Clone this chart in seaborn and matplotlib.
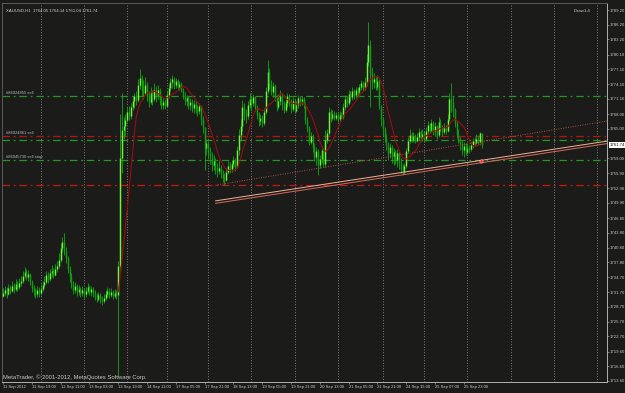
import numpy as np
import pandas as pd
import matplotlib
matplotlib.use("Agg")
import matplotlib.pyplot as plt
import seaborn as sns

# ---------------- data (XAUUSD, H1) ----------------
closes = [1731.5, 1732.2, 1731.4, 1732.6, 1732.0, 1733.0, 1732.4, 1733.4, 1732.8, 1733.6,
          1734.0, 1735.0, 1735.8, 1734.8, 1735.4, 1733.8, 1732.6, 1732.0, 1731.4, 1732.2,
          1731.6, 1732.4, 1733.2, 1733.8, 1735.2, 1734.4, 1735.6, 1736.0, 1735.2, 1736.4,
          1737.0, 1738.2, 1740.6, 1742.0, 1740.0, 1738.6, 1736.4, 1735.0, 1733.6, 1732.2,
          1733.0, 1731.8, 1732.4, 1731.6, 1732.2, 1731.4, 1732.0, 1732.8, 1731.8, 1732.4,
          1731.6, 1731.0, 1730.4, 1731.2, 1730.2, 1729.8, 1730.6, 1731.4, 1732.0, 1731.2,
          1731.8, 1731.0, 1731.6, 1731.2, 1737.0, 1759.0, 1764.8, 1765.6, 1766.8, 1768.4,
          1767.6, 1769.4, 1770.6, 1771.6, 1770.8, 1774.0, 1775.4, 1773.0, 1772.2, 1774.0,
          1771.6, 1770.4, 1772.2, 1771.0, 1772.8, 1771.8, 1773.0, 1770.6, 1769.8, 1770.4,
          1769.6, 1771.8, 1773.4, 1774.6, 1775.2, 1774.0, 1774.8, 1773.6, 1774.2, 1773.0,
          1771.8, 1770.6, 1771.2, 1769.8, 1770.4, 1769.2, 1770.0, 1769.0, 1768.6, 1769.6,
          1767.0, 1765.4, 1761.0, 1762.0, 1760.2, 1759.4, 1757.6, 1758.4, 1757.2, 1756.4,
          1757.0, 1755.8, 1755.0, 1754.6, 1756.2, 1757.4, 1756.8, 1757.8, 1758.6, 1757.2,
          1760.6, 1763.8, 1765.6, 1769.4, 1768.2, 1767.6, 1769.8, 1771.0, 1770.2, 1771.4,
          1769.2, 1767.8, 1766.6, 1767.2, 1766.2, 1768.4, 1772.6, 1776.6, 1774.2, 1772.4,
          1773.8, 1771.2, 1769.4, 1770.6, 1771.6, 1769.8, 1768.8, 1770.2, 1771.6, 1770.4,
          1769.0, 1770.6, 1768.6, 1769.8, 1771.2, 1770.6, 1771.0, 1769.8, 1766.8, 1765.2,
          1762.4, 1763.6, 1761.0, 1759.2, 1760.4, 1757.6, 1758.8, 1760.6, 1757.8, 1762.8,
          1764.2, 1768.4, 1767.2, 1768.0, 1767.2, 1767.8, 1767.0, 1767.8, 1767.4, 1769.4,
          1771.0, 1770.2, 1772.0, 1771.4, 1772.6, 1771.8, 1773.0, 1772.4, 1773.6, 1774.4,
          1773.4, 1774.6, 1778.6, 1782.0, 1776.4, 1774.6, 1775.2, 1773.6, 1774.8, 1769.6,
          1767.0, 1765.0, 1763.2, 1761.6, 1760.0, 1761.2, 1759.4, 1760.2, 1758.6, 1760.0,
          1758.0, 1756.8, 1756.2, 1757.4, 1760.4, 1762.6, 1763.8, 1762.8, 1763.6, 1762.6,
          1763.4, 1764.4, 1763.2, 1764.0, 1763.0, 1764.6, 1765.8, 1764.8, 1766.2, 1764.6,
          1765.6, 1763.8, 1766.4, 1765.4, 1764.4, 1765.4, 1764.6, 1767.0, 1771.0, 1770.4,
          1768.8, 1766.2, 1764.0, 1762.6, 1761.8, 1760.6, 1761.4, 1760.2, 1761.0, 1760.8,
          1761.6, 1762.6, 1762.0, 1763.0, 1762.4, 1764.05, 1761.74]
highs = [1732.6, 1733.0, 1732.8, 1733.4, 1733.2, 1734.0, 1733.6, 1734.4, 1734.0, 1734.6,
         1735.0, 1736.0, 1736.8, 1736.4, 1736.2, 1735.6, 1734.2, 1733.2, 1732.6, 1733.0,
         1732.8, 1733.4, 1734.0, 1735.0, 1736.0, 1735.8, 1736.4, 1737.2, 1736.6, 1737.4,
         1738.0, 1739.6, 1741.8, 1743.0, 1743.7, 1741.0, 1739.0, 1737.0, 1735.6, 1734.0,
         1733.8, 1733.4, 1733.2, 1732.8, 1733.0, 1732.6, 1732.8, 1733.6, 1733.2, 1733.0,
         1732.8, 1732.2, 1731.6, 1731.8, 1731.6, 1731.0, 1731.4, 1732.2, 1732.8, 1732.6,
         1732.6, 1732.2, 1732.4, 1732.2, 1738.0, 1768.0, 1772.3, 1767.4, 1768.0, 1769.4,
         1769.6, 1770.2, 1771.6, 1772.3, 1772.6, 1775.2, 1777.2, 1776.0, 1775.0, 1775.6,
         1774.6, 1772.6, 1773.6, 1773.0, 1774.3, 1773.8, 1774.0, 1773.4, 1771.6, 1771.2,
         1771.0, 1772.6, 1774.2, 1775.4, 1775.9, 1775.6, 1775.4, 1775.2, 1774.8, 1774.6,
         1773.4, 1772.4, 1771.8, 1771.6, 1771.2, 1771.0, 1770.8, 1770.6, 1769.8, 1770.2,
         1769.8, 1767.6, 1765.4, 1763.0, 1762.4, 1761.2, 1760.2, 1759.6, 1759.0, 1758.0,
         1758.6, 1757.6, 1756.6, 1756.0, 1757.0, 1758.4, 1758.2, 1758.6, 1759.4, 1759.0,
         1761.4, 1765.0, 1767.0, 1770.9, 1770.2, 1769.0, 1770.6, 1772.3, 1771.6, 1772.0,
         1771.6, 1769.8, 1768.4, 1768.0, 1767.8, 1769.2, 1773.6, 1779.0, 1777.4, 1775.0,
         1774.6, 1774.2, 1771.8, 1772.0, 1773.0, 1772.2, 1770.6, 1771.0, 1772.3, 1772.0,
         1771.0, 1771.4, 1771.0, 1770.6, 1771.8, 1771.6, 1771.6, 1771.4, 1770.2, 1767.4,
         1765.6, 1764.4, 1764.0, 1762.0, 1761.2, 1760.8, 1759.6, 1761.4, 1761.0, 1764.7,
         1765.0, 1769.4, 1769.0, 1768.8, 1768.6, 1768.4, 1768.2, 1768.6, 1768.4, 1770.2,
         1771.8, 1771.6, 1772.9, 1772.6, 1773.5, 1773.2, 1773.6, 1773.6, 1774.2, 1774.9,
         1774.8, 1775.6, 1780.2, 1786.8, 1783.1, 1777.6, 1776.4, 1775.6, 1775.9, 1775.2,
         1769.8, 1767.4, 1765.4, 1764.0, 1762.4, 1762.0, 1761.6, 1761.0, 1760.6, 1760.8,
         1760.4, 1759.0, 1757.8, 1758.0, 1761.0, 1763.4, 1765.0, 1764.4, 1764.4, 1764.0,
         1764.2, 1765.2, 1764.8, 1765.0, 1764.6, 1765.4, 1766.6, 1766.2, 1767.0, 1766.6,
         1766.4, 1765.8, 1767.4, 1767.0, 1765.8, 1766.2, 1765.8, 1768.0, 1772.2, 1774.3,
         1771.6, 1769.2, 1766.8, 1765.0, 1763.4, 1762.6, 1762.2, 1762.0, 1761.8, 1761.6,
         1762.4, 1763.2, 1763.4, 1764.0, 1763.8, 1764.4, 1764.14]
lows = [1730.8, 1731.0, 1730.6, 1731.2, 1731.3, 1731.8, 1731.6, 1732.0, 1732.0, 1732.4,
        1733.0, 1733.6, 1734.6, 1734.2, 1734.0, 1733.2, 1731.8, 1731.0, 1730.6, 1730.8,
        1730.8, 1731.2, 1732.0, 1732.8, 1733.4, 1733.6, 1734.0, 1734.8, 1734.6, 1735.0,
        1735.8, 1736.6, 1737.8, 1739.8, 1739.2, 1737.6, 1735.6, 1733.8, 1732.6, 1731.4,
        1731.6, 1731.0, 1731.2, 1730.8, 1731.0, 1730.6, 1730.8, 1731.6, 1731.2, 1731.0,
        1730.8, 1730.2, 1729.6, 1729.8, 1729.4, 1729.0, 1729.4, 1730.0, 1730.8, 1730.6,
        1730.8, 1730.4, 1730.6, 1730.4, 1714.6, 1736.0, 1756.0, 1763.0, 1763.6, 1766.4,
        1766.8, 1767.0, 1768.8, 1769.2, 1769.8, 1770.4, 1773.2, 1771.6, 1771.0, 1771.8,
        1770.6, 1769.4, 1770.0, 1769.8, 1770.6, 1770.4, 1771.0, 1769.8, 1769.0, 1769.0,
        1769.0, 1769.4, 1771.2, 1772.6, 1773.4, 1773.2, 1773.4, 1773.0, 1772.8, 1772.4,
        1771.0, 1769.8, 1769.6, 1769.0, 1768.8, 1768.4, 1768.2, 1768.2, 1767.6, 1768.0,
        1765.8, 1764.2, 1756.6, 1759.6, 1758.8, 1757.8, 1756.4, 1756.6, 1755.8, 1755.2,
        1755.8, 1755.0, 1754.2, 1753.5, 1754.4, 1755.8, 1756.0, 1756.2, 1757.2, 1756.4,
        1757.0, 1759.6, 1762.6, 1764.6, 1766.8, 1766.2, 1767.0, 1769.2, 1768.6, 1769.6,
        1768.6, 1767.0, 1765.6, 1765.8, 1765.4, 1765.8, 1768.0, 1772.0, 1773.2, 1771.8,
        1771.4, 1770.6, 1768.6, 1769.0, 1769.8, 1768.8, 1768.2, 1768.4, 1769.4, 1769.6,
        1768.2, 1768.6, 1768.2, 1768.4, 1769.2, 1769.6, 1769.8, 1769.2, 1766.0, 1764.4,
        1761.6, 1761.8, 1760.2, 1758.4, 1757.6, 1755.6, 1757.0, 1758.0, 1757.2, 1757.2,
        1762.0, 1763.8, 1766.4, 1766.8, 1766.8, 1766.8, 1766.4, 1766.6, 1766.8, 1767.0,
        1768.8, 1769.4, 1769.8, 1770.6, 1770.8, 1771.0, 1771.2, 1771.6, 1772.0, 1772.8,
        1772.6, 1772.9, 1773.8, 1777.8, 1769.4, 1773.2, 1773.4, 1772.9, 1773.0, 1769.0,
        1765.6, 1763.6, 1762.4, 1760.6, 1758.6, 1759.0, 1758.0, 1757.6, 1757.8, 1757.2,
        1756.8, 1756.0, 1755.6, 1755.8, 1757.0, 1760.0, 1762.0, 1762.2, 1762.4, 1762.0,
        1762.2, 1762.8, 1762.6, 1762.6, 1762.2, 1762.6, 1764.0, 1764.2, 1764.4, 1763.8,
        1763.6, 1763.0, 1763.4, 1764.6, 1763.6, 1764.0, 1764.0, 1764.4, 1766.6, 1768.4,
        1767.4, 1765.4, 1763.2, 1762.0, 1760.6, 1759.6, 1759.2, 1759.6, 1759.8, 1760.0,
        1760.4, 1761.0, 1761.4, 1761.8, 1761.6, 1761.6, 1761.04]
first_open = 1731.0

x_tick_labels = ["11 Sep 2012", "11 Sep 19:00", "12 Sep 11:00", "13 Sep 03:00",
                 "13 Sep 19:00", "14 Sep 11:00", "17 Sep 05:00", "17 Sep 21:00",
                 "18 Sep 13:00", "19 Sep 05:00", "19 Sep 21:00", "20 Sep 13:00",
                 "21 Sep 05:00", "21 Sep 21:00", "24 Sep 15:00", "25 Sep 07:00",
                 "25 Sep 23:00"]
x_tick_bars = [0, 16, 32, 48, 64, 80, 96, 112, 128, 144, 160, 176, 192, 208, 224, 240, 256]
y_tick_values = [1789.20, 1786.20, 1783.20, 1780.10, 1777.10, 1774.10, 1771.10, 1768.00,
                 1765.00, 1759.00, 1755.90, 1752.90, 1749.90, 1746.80, 1743.80, 1740.80,
                 1737.80, 1734.70, 1731.70, 1728.70, 1725.70, 1722.70, 1719.60, 1716.60,
                 1713.60]
day_breaks = [21, 45, 69, 91, 114, 138, 162, 186, 211, 234, 258, 282, 306, 330]

order_levels = [1771.67, 1763.52, 1762.71, 1758.60, 1753.50]
order_labels = ["#86024855 sell", "#86024861 sell", "", "#86045730 sell stop", ""]
order_colors = ["#1f9a1f", "#b81414", "#1f9a1f", "#1f9a1f", "#c41616"]

trend_bars = [118, 336]
trend_solid_a = [1750.3, 1762.5]
trend_solid_b = [1749.8, 1762.0]
trend_dotted = [1753.5, 1766.6]

marker_bar = [265.6]
marker_price = [1758.4]

header = "XAUUSD,H1  1764.05 1764.14 1761.04 1761.74"
last_price = 1761.74
ma_period = 10
ma_start_bar = 64

# ---------------- figure ----------------
BG = "#1b1c1a"
sns.set_style("dark", {"axes.facecolor": BG, "figure.facecolor": BG,
                       "axes.edgecolor": "#9a9a9a", "axes.grid": False})
plt.rcParams["font.family"] = ["Liberation Sans", "DejaVu Sans"]

W, H = 625, 393
fig = plt.figure(figsize=(W / 100, H / 100), dpi=100)
ax = fig.add_axes([2 / W, 11 / H, 605 / W, 379 / H])
ax.set_facecolor(BG)

n = len(closes)
bars = np.arange(n)
c = np.array(closes)
hi = np.array(highs)
lo = np.array(lows)
o = np.concatenate([[first_open], c[:-1]])
df = pd.DataFrame({"bar": bars, "open": o, "high": hi, "low": lo, "close": c})
df["ma"] = df["close"].rolling(ma_period, min_periods=1).mean()
df.loc[df["bar"] < ma_start_bar, "ma"] = np.nan

# day separators
for b in day_breaks:
    ax.axvline(b, color="#8a8a8a", lw=0.6, ls=(0, (1.2, 2.0)), zorder=1)

# order lines
for lvl, lab, col in zip(order_levels, order_labels, order_colors):
    ax.axhline(lvl, color=col, lw=0.9, ls=(0, (6, 3, 1.5, 3)), zorder=2)
    if lab:
        ax.text(1.5, lvl + 0.3, lab, color="#b8b8b8", fontsize=3.0,
                va="bottom", ha="left", zorder=5)

# candles
up = df["close"] >= df["open"]
ax.vlines(df["bar"], df["low"], df["high"], color="#12a812", lw=0.6, zorder=3)
body_lo = np.minimum(df["open"], df["close"])
body_hi = np.maximum(df["open"], df["close"])
body_hi = np.where(body_hi - body_lo < 0.15, body_lo + 0.15, body_hi)
ax.vlines(df["bar"][up], body_lo[up], body_hi[up], color="#6cf63c", lw=1.05, zorder=4)
ax.vlines(df["bar"][~up], body_lo[~up], body_hi[~up], color="#109e10", lw=1.05, zorder=4)

# moving average
sns.lineplot(data=df, x="bar", y="ma", color="#9a0c0c", lw=0.8, ax=ax, zorder=5)

# trend lines
ax.plot(trend_bars, trend_solid_a, color="#f4b098", lw=0.7, zorder=6)
ax.plot(trend_bars, trend_solid_b, color="#d86a5a", lw=0.7, zorder=6)
ax.plot(trend_bars, trend_dotted, color="#b05040", lw=0.7, ls=(0, (1, 1.5)), zorder=6)
ax.scatter(marker_bar, marker_price, s=6, color="#ff3030", edgecolor="#ffb0b0",
           linewidth=0.4, zorder=7)

# axes
ax.set_xlim(-0.6, 335.6)
ax.set_ylim(1713.39, 1790.63)
ax.set_xlabel("")
ax.set_ylabel("")
ax.yaxis.tick_right()
ax.set_yticks(y_tick_values)
ax.set_yticklabels([f"{v:.2f}" for v in y_tick_values])
ax.set_xticks(x_tick_bars)
ax.set_xticklabels(x_tick_labels, ha="left")
ax.tick_params(axis="y", which="both", right=True, left=False, length=1.5, width=0.5,
               color="#9a9a9a", labelsize=3.1, labelcolor="#c8c8c8", pad=0.6)
ax.tick_params(axis="x", which="both", bottom=True, length=1.5, width=0.5,
               color="#9a9a9a", labelsize=3.0, labelcolor="#c8c8c8", pad=1)
for s in ax.spines.values():
    s.set_linewidth(0.7)
ax.spines["left"].set_color("#5a5a5a")
ax.spines["top"].set_color("#5a5a5a")
ax.spines["right"].set_color("#b0b0b0")
ax.spines["bottom"].set_color("#b0b0b0")

# current price label
ax.text(1.004, last_price, f"{last_price:.2f}", transform=ax.get_yaxis_transform(),
        fontsize=3.1, color="black", va="center", ha="left",
        bbox=dict(boxstyle="square,pad=0.2", fc="white", ec="none"), zorder=10,
        clip_on=False)

# texts
ax.text(0.006, 0.985, header, transform=ax.transAxes, fontsize=3.1, color="#d0d0d0",
        va="top", ha="left")
ax.text(0.945, 0.985, "iDraw1.4", transform=ax.transAxes, fontsize=3.1, color="#d0d0d0",
        va="top", ha="left")
ax.text(0.002, 0.006, "MetaTrader, \u00a9 2001-2012, MetaQuotes Software Corp.",
        transform=ax.transAxes, fontsize=4.2, color="#c8c8c8", va="bottom", ha="left")

fig.savefig("out.png", dpi=100, facecolor=BG)
